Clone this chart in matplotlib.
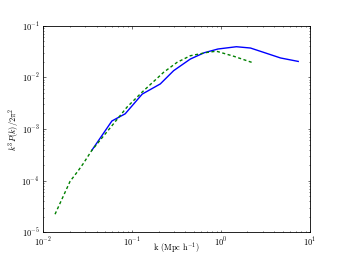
import matplotlib
matplotlib.use("Agg")
import matplotlib.pyplot as plt

plt.rcParams['font.family'] = 'serif'
plt.rcParams['font.serif'] = ['cmr10', 'DejaVu Serif']
plt.rcParams['mathtext.fontset'] = 'cm'
plt.rcParams['axes.formatter.use_mathtext'] = True

# Solid (blue) series
k_blue = [0.0354, 0.0596, 0.0841, 0.1308, 0.2088, 0.295, 0.455, 0.65, 0.93, 1.5, 2.16, 3.05, 4.71, 7.45]
p_blue = [3.85e-4, 1.43e-3, 1.97e-3, 4.75e-3, 7.47e-3, 0.0135, 0.0227, 0.0300, 0.0355, 0.0393, 0.0371, 0.0305, 0.0238, 0.0204]

# Dashed (green) series
k_green = [0.01366, 0.02016, 0.0248, 0.02825, 0.0354, 0.0621, 0.0879, 0.1297, 0.2274, 0.322, 0.455, 0.702, 0.893, 1.40, 2.35]
p_green = [2.23e-5, 9.67e-5, 1.54e-4, 2.11e-4, 3.85e-4, 1.26e-3, 2.64e-3, 5.14e-3, 0.01253, 0.01954, 0.0263, 0.0305, 0.0322, 0.0257, 0.0190]

fig = plt.figure(figsize=(3.44, 2.58), dpi=100)
ax = fig.add_axes([0.125, 0.1, 0.775, 0.8])

ax.plot(k_blue, p_blue, color=(0, 0, 1), lw=1.0, linestyle='-')
ax.plot(k_green, p_green, color=(0, 0.5, 0), lw=1.0, linestyle=(0, (2.2, 1.8)))

ax.set_xscale('log')
ax.set_yscale('log')
ax.set_xlim(1e-2, 1e1)
ax.set_ylim(1e-5, 1e-1)

ax.set_xlabel(r'k (Mpc h$^{-1}$)', fontsize=6, va='center')
ax.set_ylabel(r'$k^3P(k)/2\pi^2$', fontsize=6, va='center')
ax.xaxis.set_label_coords(0.5, -0.072)
ax.yaxis.set_label_coords(-0.11, 0.5)

ax.tick_params(which='both', direction='in', top=True, right=True, labelsize=6, width=0.4)
ax.tick_params(axis='x', which='both', pad=3)
ax.tick_params(axis='y', which='both', pad=2.5)
ax.tick_params(which='major', length=1.8)
ax.tick_params(which='minor', length=0.9)
for s in ax.spines.values():
    s.set_linewidth(0.6)

fig.savefig('out.png', dpi=100)
